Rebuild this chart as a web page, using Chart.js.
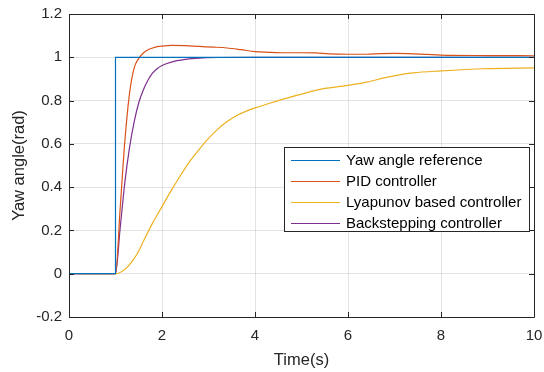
<!DOCTYPE html>
<html>
<head>
<meta charset="utf-8">
<script src="https://cdn.jsdelivr.net/npm/chart.js@4.4.0/dist/chart.umd.min.js"></script>
<style>
  html, body { margin: 0; padding: 0; background: #fff; }
  canvas { display: block; }
</style>
</head>
<body>
<canvas id="yawChart" width="544" height="372"></canvas>
<script>
// ----------------------
// Data
// ----------------------
const seriesNames = ['Yaw angle reference', 'PID controller', 'Lyapunov based controller', 'Backstepping controller'];

const refT = [0, 1, 1, 10];
const refV = [0, 0, 1, 1];

const pidT = [0, 1, 1.1, 1.2, 1.3, 1.4, 1.5, 1.6, 1.7, 1.8, 1.9, 2.0, 2.2, 2.5, 2.8, 3.1, 3.4, 3.7, 4.0, 4.3, 4.6, 5.0, 5.3, 5.6, 6.0, 6.4, 6.7, 7.0, 7.3, 7.7, 8.0, 9.0, 10];
const pidV = [0, 0, 0.30, 0.61, 0.83, 0.95, 0.995, 1.02, 1.035, 1.043, 1.049, 1.052, 1.055, 1.054, 1.05, 1.047, 1.043, 1.035, 1.026, 1.023, 1.021, 1.021, 1.02, 1.016, 1.014, 1.014, 1.017, 1.018, 1.017, 1.013, 1.01, 1.008, 1.007];

const lyaT = [0, 1, 1.2, 1.4, 1.5, 1.6, 1.8, 2.0, 2.2, 2.4, 2.6, 2.8, 3.0, 3.2, 3.4, 3.6, 3.8, 4.0, 4.25, 4.5, 5.0, 5.4, 6.0, 6.4, 6.8, 7.1, 7.4, 8.0, 8.9, 10];
const lyaV = [0, 0, 0.02, 0.07, 0.105, 0.15, 0.235, 0.31, 0.385, 0.455, 0.52, 0.575, 0.625, 0.668, 0.703, 0.73, 0.75, 0.766, 0.783, 0.8, 0.83, 0.852, 0.87, 0.885, 0.906, 0.919, 0.928, 0.937, 0.947, 0.951];

const bsT = [0, 1, 1.1, 1.2, 1.3, 1.4, 1.5, 1.6, 1.7, 1.8, 1.9, 2.0, 2.2, 2.5, 2.8, 3.2, 4.0, 10];
const bsV = [0, 0, 0.21, 0.42, 0.58, 0.70, 0.79, 0.85, 0.895, 0.928, 0.948, 0.962, 0.978, 0.99, 0.996, 0.999, 1.0, 1.0];

const xTicks = [0, 2, 4, 6, 8, 10];
const yTicks = [-0.2, 0, 0.2, 0.4, 0.6, 0.8, 1, 1.2];

// MATLAB default line colours
const colors = {
  ref: '#0072BD',
  pid: '#D95319',
  lya: '#EDB120',
  bs: '#7E2F8E',
  axis: '#262626',
  grid: 'rgba(38,38,38,0.13)',
};

const FONT = "'Liberation Sans', Arial, Helvetica, sans-serif";

const toPoints = (t, v) => t.map((x, i) => ({ x, y: v[i] }));

// ----------------------
// Box with inward ticks on all four sides
// ----------------------
const boxPlugin = {
  id: 'matlabBox',
  afterDatasetsDraw(chart) {
    const { ctx, chartArea: a, scales } = chart;
    const len = 5;
    ctx.save();
    ctx.strokeStyle = colors.axis;
    ctx.lineWidth = 1;
    ctx.beginPath();
    ctx.rect(Math.round(a.left) + 0.5, Math.round(a.top) + 0.5,
      Math.round(a.right - a.left), Math.round(a.bottom - a.top));
    xTicks.forEach((v) => {
      const px = Math.round(scales.x.getPixelForValue(v)) + 0.5;
      ctx.moveTo(px, a.bottom); ctx.lineTo(px, a.bottom - len);
      ctx.moveTo(px, a.top); ctx.lineTo(px, a.top + len);
    });
    yTicks.forEach((v) => {
      const py = Math.round(scales.y.getPixelForValue(v)) + 0.5;
      ctx.moveTo(a.left, py); ctx.lineTo(a.left + len, py);
      ctx.moveTo(a.right, py); ctx.lineTo(a.right - len, py);
    });
    ctx.stroke();
    ctx.restore();
  },
};

// ----------------------
// Legend box inside the axes
// ----------------------
const legendPlugin = {
  id: 'insideLegend',
  afterDraw(chart) {
    const { ctx, chartArea: a } = chart;
    const w = 245, h = 84;
    const x0 = Math.round(a.right - 5 - w), y0 = 147;
    ctx.save();
    ctx.fillStyle = '#fff';
    ctx.fillRect(x0, y0, w, h);
    ctx.strokeStyle = colors.axis;
    ctx.lineWidth = 1;
    ctx.strokeRect(x0 + 0.5, y0 + 0.5, w, h);
    ctx.font = '15px ' + FONT;
    ctx.textBaseline = 'middle';
    chart.data.datasets.forEach((ds, i) => {
      const cy = y0 + 13 + i * 21;
      ctx.strokeStyle = ds.borderColor;
      ctx.lineWidth = 1.2;
      ctx.beginPath();
      ctx.moveTo(x0 + 7, cy + 0.5);
      ctx.lineTo(x0 + 56, cy + 0.5);
      ctx.stroke();
      ctx.fillStyle = '#000';
      ctx.fillText(ds.label, x0 + 62, cy + 1);
    });
    ctx.restore();
  },
};

const tickFont = { family: FONT, size: 15 };
const titleFont = { family: FONT, size: 16.5 };

new Chart(document.getElementById('yawChart'), {
  type: 'line',
  data: {
    datasets: [
      { label: seriesNames[0], data: toPoints(refT, refV), borderColor: colors.ref, tension: 0 },
      { label: seriesNames[1], data: toPoints(pidT, pidV), borderColor: colors.pid, cubicInterpolationMode: 'monotone' },
      { label: seriesNames[2], data: toPoints(lyaT, lyaV), borderColor: colors.lya, cubicInterpolationMode: 'monotone' },
      { label: seriesNames[3], data: toPoints(bsT, bsV), borderColor: colors.bs, cubicInterpolationMode: 'monotone' },
    ],
  },
  options: {
    responsive: false,
    animation: false,
    layout: { padding: { top: 14, right: 10, left: 0, bottom: 0 } },
    elements: {
      point: { radius: 0 },
      line: { borderWidth: 1.2, fill: false },
    },
    plugins: {
      legend: { display: false },
      tooltip: { enabled: false },
    },
    scales: {
      x: {
        type: 'linear',
        min: 0,
        max: 10,
        afterBuildTicks: (s) => { s.ticks = xTicks.map((value) => ({ value })); },
        afterFit: (s) => { s.height = 55; s.paddingLeft = 0; s.paddingRight = 0; },
        grid: { color: colors.grid, drawTicks: false },
        border: { display: false },
        ticks: { color: colors.axis, font: tickFont, padding: 10, maxRotation: 0 },
        title: { display: true, text: 'Time(s)', color: colors.axis, font: titleFont, padding: { top: 0, bottom: 2 } },
      },
      y: {
        type: 'linear',
        min: -0.2,
        max: 1.2,
        afterBuildTicks: (s) => { s.ticks = yTicks.map((value) => ({ value })); },
        afterFit: (s) => { s.width = 69; s.paddingTop = 0; s.paddingBottom = 0; },
        grid: { color: colors.grid, drawTicks: false },
        border: { display: false },
        ticks: {
          color: colors.axis,
          font: tickFont,
          padding: 7,
          callback: (v) => String(Math.round(v * 10) / 10),
        },
        title: { display: true, text: 'Yaw angle(rad)', color: colors.axis, font: titleFont, padding: { top: 10, bottom: 0 } },
      },
    },
  },
  plugins: [boxPlugin, legendPlugin],
});
</script>
</body>
</html>
